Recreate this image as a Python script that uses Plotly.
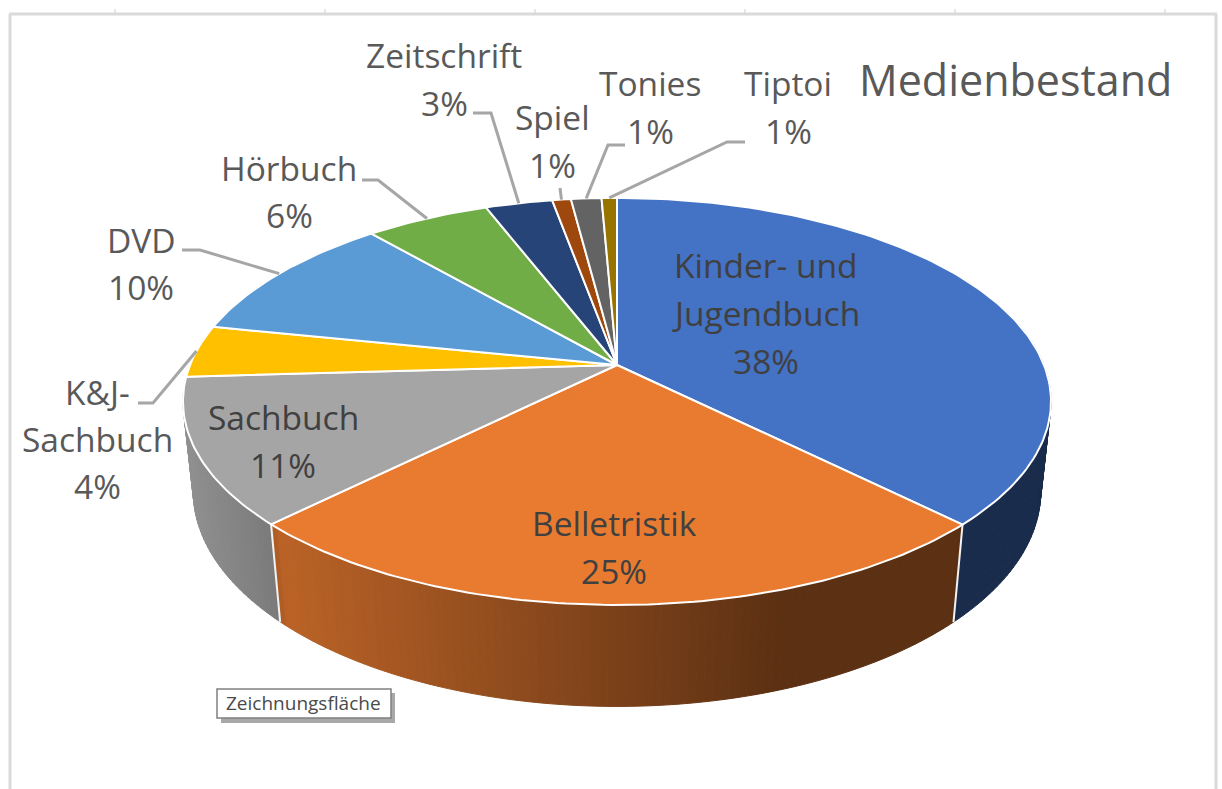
import numpy as np
import plotly.graph_objects as go

categories = ["Kinder- und Jugendbuch", "Belletristik", "Sachbuch", "K&J-Sachbuch", "DVD",
              "Hörbuch", "Zeitschrift", "Spiel", "Tonies", "Tiptoi"]
values = [37.5, 25.0, 11.55, 4.15, 10.45, 5.5, 2.97, 0.83, 1.35, 0.68]
shown_pct = ["38%", "25%", "11%", "4%", "10%", "6%", "3%", "1%", "1%", "1%"]
colors = ["#4472C4", "#E97B30", "#A5A5A5", "#FFC000", "#5B9BD5",
          "#70AD47", "#264478", "#9E480E", "#636363", "#997300"]

# projection of the tilted disc onto the page
CX, CY, R, H, K = 617.0, 365.0, 427.0, 197.0, 0.179
VP_Y, T = 4243.0, 0.0229


def top(theta):
    s = 1 / (1 + K * np.cos(theta))
    return CX + R * np.sin(theta) * s, CY - H * np.cos(theta) * s


def bottom(theta):
    x, y = top(theta)
    t = T / (1 + K * np.cos(theta))
    return x + (CX - x) * t, y + (VP_Y - y) * t


v = np.array(values, dtype=float)
edges = np.concatenate([[0], np.cumsum(v)]) / v.sum() * 2 * np.pi
fig = go.Figure()


def shade(x):
    return float(np.interp(x, [185, 272, 280, 780, 1050], [0.87, 0.74, 0.80, 0.395, 0.385]))


def rgb(hexc, f):
    r, g, b = int(hexc[1:3], 16), int(hexc[3:5], 16), int(hexc[5:7], 16)
    return f"rgb({r*f:.0f},{g*f:.0f},{b*f:.0f})"


# side wall: the three slices that face the viewer
for i, c in enumerate(colors[:3]):
    a0, a1 = edges[i], edges[i + 1]
    lo, hi = max(a0, np.radians(75)), min(a1, np.radians(285))
    if hi <= lo:
        continue
    n = max(1, int(np.degrees(hi - lo) / 1.0))
    grid = np.linspace(lo, hi, n + 1)
    for p, q in zip(grid[:-1], grid[1:]):
        m = np.linspace(p, q, 3)
        xt, yt = top(m)
        xb, yb = bottom(m[::-1])
        col = rgb(c, shade(xt.mean()))
        fig.add_trace(go.Scatter(x=np.concatenate([xt, xb, xt[:1]]), y=np.concatenate([yt, yb, yt[:1]]),
                                 mode="lines", fill="toself", fillcolor=col,
                                 line=dict(color=col, width=1), hoverinfo="skip", showlegend=False))

# white seams on the wall
for a in edges[1:3]:
    xt, yt = top(a)
    xb, yb = bottom(a)
    fig.add_trace(go.Scatter(x=[xt, xb], y=[yt, yb], mode="lines",
                             line=dict(color="#F2F2F2", width=2), hoverinfo="skip", showlegend=False))

# top face
for i, c in enumerate(colors):
    m = np.linspace(edges[i], edges[i + 1], max(3, int(np.degrees(edges[i + 1] - edges[i]))))
    xs, ys = top(m)
    fig.add_trace(go.Scatter(x=np.concatenate([[CX], xs, [CX]]), y=np.concatenate([[CY], ys, [CY]]),
                             mode="lines", fill="toself", fillcolor=c, line=dict(color="#FFFFFF", width=2),
                             name=categories[i], hoverinfo="name", showlegend=False))

# leader lines: label-side elbow points, ending on the rim at the slice's middle
mid = (edges[:-1] + edges[1:]) / 2
leaders = {3: [(138, 403), (153, 403)], 4: [(182, 250), (200, 250)], 5: [(362, 180), (378, 180)],
           6: [(473, 113), (491, 113)], 7: [(560, 188)], 8: [(625, 145), (608, 145)],
           9: [(745, 142), (727, 142)]}
for i, pts in leaders.items():
    ex, ey = top(mid[i])
    xs = [p[0] for p in pts] + [float(ex)]
    ys = [p[1] for p in pts] + [float(ey)]
    fig.add_trace(go.Scatter(x=xs, y=ys, mode="lines", line=dict(color="#A6A6A6", width=3),
                             hoverinfo="skip", showlegend=False))

FONT = "Open Sans"
label_lines = {
    0: (766, [265, 313, 361], ["Kinder- und", "Jugendbuch"], "#404040"),
    1: (614, [523, 571], ["Belletristik"], "#404040"),
    2: (283, [417, 465], ["Sachbuch"], "#404040"),
    3: (97, [392, 439, 486], ["K&J-", "Sachbuch"], "#595959"),
    4: (141, [240, 287], ["DVD"], "#595959"),
    5: (289, [168, 215], ["Hörbuch"], "#595959"),
    6: (444, [55, 103], ["Zeitschrift"], "#595959"),
    7: (552, [117, 165], ["Spiel"], "#595959"),
    8: (650, [83, 131], ["Tonies"], "#595959"),
    9: (788, [83, 131], ["Tiptoi"], "#595959"),
}
ann = []
for i, (x, ys, names, col) in label_lines.items():
    for y, txt in zip(ys, names + [shown_pct[i]]):
        ann.append(dict(x=x, y=y, text=txt, xref="x", yref="y", showarrow=False, xanchor="center",
                        yanchor="middle", font=dict(family=FONT, size=33.5, color=col)))
ann.append(dict(x=1015, y=79, text="Medienbestand", xref="x", yref="y", showarrow=False, xanchor="center",
                yanchor="middle", font=dict(family=FONT, size=43, color="#595959")))
ann.append(dict(x=303, y=703, text="Zeichnungsfläche", xref="x", yref="y", showarrow=False, xanchor="center",
                yanchor="middle", font=dict(family=FONT, size=19, color="#4A4A4A")))

shapes = [
    dict(type="rect", x0=221, y0=693, x1=395, y1=723, fillcolor="#A8A8A8", line=dict(width=0)),
    dict(type="rect", x0=217, y0=689, x1=391, y1=718, fillcolor="#FFFFFF", line=dict(color="#808080", width=1.5)),
    dict(type="line", x0=10, y0=789, x1=10, y1=14, line=dict(color="#DADADA", width=3)),
    dict(type="line", x0=9, y0=14, x1=1217, y1=14, line=dict(color="#DADADA", width=3)),
    dict(type="line", x0=1216, y0=14, x1=1216, y1=789, line=dict(color="#DADADA", width=3)),
]
for tx in [115, 325, 535, 745, 955, 1165]:
    shapes.append(dict(type="line", x0=tx, y0=9, x1=tx, y1=14, line=dict(color="#CFCFCF", width=1)))

fig.update_layout(width=1222, height=789, margin=dict(l=0, r=0, t=0, b=0),
                  paper_bgcolor="#FFFFFF", plot_bgcolor="#FFFFFF",
                  xaxis=dict(range=[0, 1222], visible=False, fixedrange=True),
                  yaxis=dict(range=[789, 0], visible=False, fixedrange=True),
                  annotations=ann, shapes=shapes, showlegend=False)
fig.write_html("out.html", config={"displayModeBar": False},
               post_script="document.body.style.margin='0';")
